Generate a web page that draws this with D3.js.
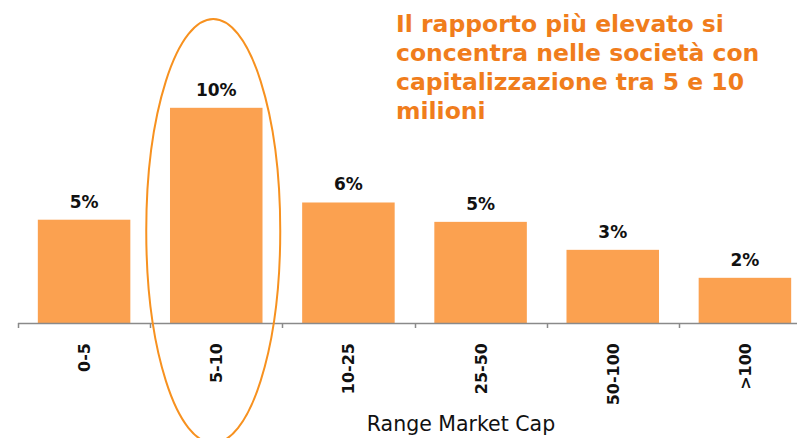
<!DOCTYPE html>
<html>
<head>
<meta charset="utf-8">
<script src="https://cdn.jsdelivr.net/npm/d3@7"></script>
<style>
  html, body { margin: 0; padding: 0; background: #fff; }
  svg { display: block; }
</style>
</head>
<body>
<svg id="chart" width="797" height="438"></svg>
<script>
// Market-cap ranges (millions) and the share of companies in each range
const categories = ["0-5", "5-10", "10-25", "25-50", "50-100", ">100"];
const values = [0.048, 0.100, 0.056, 0.047, 0.034, 0.021];
const titleLines = [
  "Il rapporto più elevato si",
  "concentra nelle società con",
  "capitalizzazione tra 5 e 10",
  "milioni"
];
const axisTitle = "Range Market Cap";
const highlighted = "5-10";

const svg = d3.select("#chart");
const baseY = 323;

const x = d3.scaleBand()
  .domain(categories)
  .range([18, 811])
  .paddingInner(0.3)
  .paddingOuter(0.15);

const y = d3.scaleLinear()
  .domain([0, 0.125])
  .range([baseY, baseY - 269]);

const fmt = d3.format(".0%");

// bars
svg.append("g").selectAll("rect")
  .data(categories)
  .join("rect")
  .attr("x", d => x(d))
  .attr("y", (d, i) => y(values[i]))
  .attr("width", x.bandwidth())
  .attr("height", (d, i) => y(0) - y(values[i]))
  .attr("fill", "#FBA150");

// value labels
svg.append("g").selectAll("text")
  .data(categories)
  .join("text")
  .attr("x", d => x(d) + x.bandwidth() / 2)
  .attr("y", (d, i) => y(values[i]) - 12)
  .attr("text-anchor", "middle")
  .attr("font-family", "DejaVu Sans, Verdana, sans-serif")
  .attr("font-weight", "bold")
  .attr("font-size", 17)
  .attr("fill", "#111")
  .text((d, i) => fmt(values[i]));

// category axis: line plus ticks between categories
const axisG = svg.append("g");
const step = x.step();
const gap = step * x.paddingInner();
axisG.append("line")
  .attr("x1", x(categories[0]) - gap / 2)
  .attr("x2", 797)
  .attr("y1", baseY + 0.5)
  .attr("y2", baseY + 0.5)
  .attr("stroke", "#8a8a8a")
  .attr("stroke-width", 1.5);
axisG.selectAll("line.tick")
  .data(categories)
  .join("line")
  .attr("class", "tick")
  .attr("x1", d => Math.round(x(d) - gap / 2) + 0.5)
  .attr("x2", d => Math.round(x(d) - gap / 2) + 0.5)
  .attr("y1", baseY)
  .attr("y2", baseY + 5)
  .attr("stroke", "#8a8a8a")
  .attr("stroke-width", 1.5);

// rotated category labels
axisG.selectAll("text")
  .data(categories)
  .join("text")
  .attr("transform", d => `translate(${x(d) + x.bandwidth() / 2 + 6},${baseY + 20}) rotate(-90)`)
  .attr("text-anchor", "end")
  .attr("font-family", "DejaVu Sans, Verdana, sans-serif")
  .attr("font-weight", "bold")
  .attr("font-size", 16)
  .attr("fill", "#111")
  .text(d => d);

// axis title
svg.append("text")
  .attr("x", 461)
  .attr("y", 431)
  .attr("text-anchor", "middle")
  .attr("font-family", "DejaVu Sans, Verdana, sans-serif")
  .attr("font-size", 20.5)
  .attr("fill", "#111")
  .text(axisTitle);

// highlight ring around the top range
svg.append("ellipse")
  .attr("cx", x(highlighted) + x.bandwidth() / 2 - 3)
  .attr("cy", 231)
  .attr("rx", 67)
  .attr("ry", 212)
  .attr("fill", "none")
  .attr("stroke", "#F7911F")
  .attr("stroke-width", 2);

// headline
svg.append("text")
  .attr("font-family", "DejaVu Sans, Verdana, sans-serif")
  .attr("font-weight", "bold")
  .attr("font-size", 23.5)
  .attr("fill", "#F07D1C")
  .selectAll("tspan")
  .data(titleLines)
  .join("tspan")
  .attr("x", 396)
  .attr("y", (d, i) => 32 + i * 29)
  .text(d => d);
</script>
</body>
</html>
